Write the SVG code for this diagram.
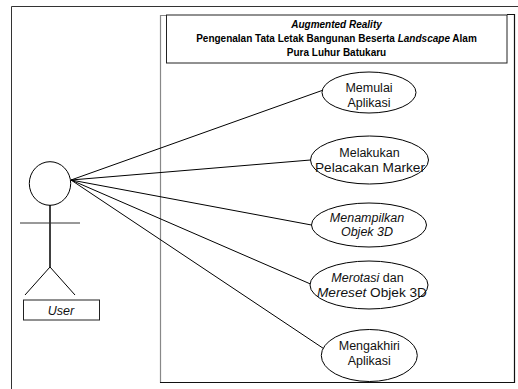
<svg xmlns="http://www.w3.org/2000/svg" width="518" height="389" viewBox="0 0 518 389">
  <style>
    .frame { fill: none; stroke: #222; stroke-width: 1; }
    .uc { fill: #fff; stroke: #000; stroke-width: 1; }
    .lbl { font-family: "Liberation Sans", Arial, sans-serif; font-size: 12.5px; fill: #111; text-anchor: middle; }
    .ttl { font-family: "Liberation Sans", Arial, sans-serif; font-size: 10px; font-weight: bold; fill: #000; text-anchor: middle; }
    .it { font-style: italic; }
    .assoc { stroke: #000; stroke-width: 1; fill: none; }
  </style>
  <rect x="0" y="0" width="518" height="389" fill="#fff"/>

  <!-- outer page frame -->
  <path d="M11.5,389 V6.5 H518" fill="none" stroke="#333" stroke-width="1"/>

  <!-- system boundary -->
  <g id="system">
    <path d="M160.5,383 V15.5 H166" fill="none" stroke="#888" stroke-width="1.2"/>
    <path d="M507,14.5 H514.5 V382.5 H160" fill="none" stroke="#111" stroke-width="1.2"/>
    <rect x="166.5" y="15" width="340.5" height="48" fill="#fff" stroke="#222" stroke-width="1"/>
    <text class="ttl" x="336.5" y="28"><tspan class="it">Augmented Reality</tspan></text>
    <text class="ttl" x="336.5" y="42">Pengenalan Tata Letak Bangunan Beserta <tspan class="it">Landscape</tspan> Alam</text>
    <text class="ttl" x="336.5" y="56">Pura Luhur Batukaru</text>
  </g>

  <!-- associations -->
  <g id="connectors">
    <line class="assoc" x1="71" y1="180" x2="322" y2="90.5"/>
    <line class="assoc" x1="71" y1="180" x2="310.5" y2="160"/>
    <line class="assoc" x1="71" y1="180" x2="311.5" y2="225"/>
    <line class="assoc" x1="71" y1="180" x2="310.5" y2="284"/>
    <line class="assoc" x1="71" y1="180" x2="323.5" y2="348.5"/>
  </g>

  <!-- actor -->
  <g id="actor-user">
    <ellipse cx="50" cy="183.5" rx="20.7" ry="21.8" fill="#fff" stroke="#000" stroke-width="1"/>
    <line x1="50" y1="205" x2="50" y2="267" stroke="#000" stroke-width="1.5"/>
    <line x1="20" y1="223" x2="80" y2="223" stroke="#333" stroke-width="1"/>
    <line x1="50" y1="267" x2="25" y2="295" stroke="#000" stroke-width="1"/>
    <line x1="50" y1="267" x2="75" y2="295" stroke="#000" stroke-width="1"/>
    <rect x="23.5" y="300" width="76" height="20" fill="#fff" stroke="#222" stroke-width="1"/>
    <text class="lbl it" x="61" y="314.5">User</text>
  </g>

  <!-- use cases -->
  <g id="uc-memulai">
    <ellipse class="uc" cx="369" cy="92.5" rx="47" ry="20.5"/>
    <text class="lbl" x="369" y="92.3">Memulai</text>
    <text class="lbl" x="369" y="106.7">Aplikasi</text>
  </g>

  <g id="uc-pelacakan">
    <ellipse class="uc" cx="369.5" cy="160" rx="59" ry="24"/>
    <text class="lbl" x="369.5" y="157.3">Melakukan</text>
    <text class="lbl" x="370" y="171.7" textLength="110" lengthAdjust="spacingAndGlyphs">Pelacakan Marker</text>
  </g>

  <g id="uc-menampilkan">
    <ellipse class="uc" cx="369" cy="225" rx="57.5" ry="22"/>
    <text class="lbl it" x="367" y="221.5">Menampilkan</text>
    <text class="lbl it" x="367" y="236">Objek 3D</text>
  </g>

  <g id="uc-merotasi">
    <ellipse class="uc" cx="369" cy="285" rx="59" ry="24"/>
    <text class="lbl" x="367.5" y="282"><tspan class="it">Merotasi</tspan> dan</text>
    <text class="lbl" x="372" y="296.5" textLength="110" lengthAdjust="spacingAndGlyphs"><tspan class="it">Mereset</tspan> Objek 3D</text>
  </g>

  <g id="uc-mengakhiri">
    <ellipse class="uc" cx="369.3" cy="355.5" rx="48" ry="26"/>
    <text class="lbl" x="369.3" y="349.5">Mengakhiri</text>
    <text class="lbl" x="369.3" y="364.5">Aplikasi</text>
  </g>
</svg>
